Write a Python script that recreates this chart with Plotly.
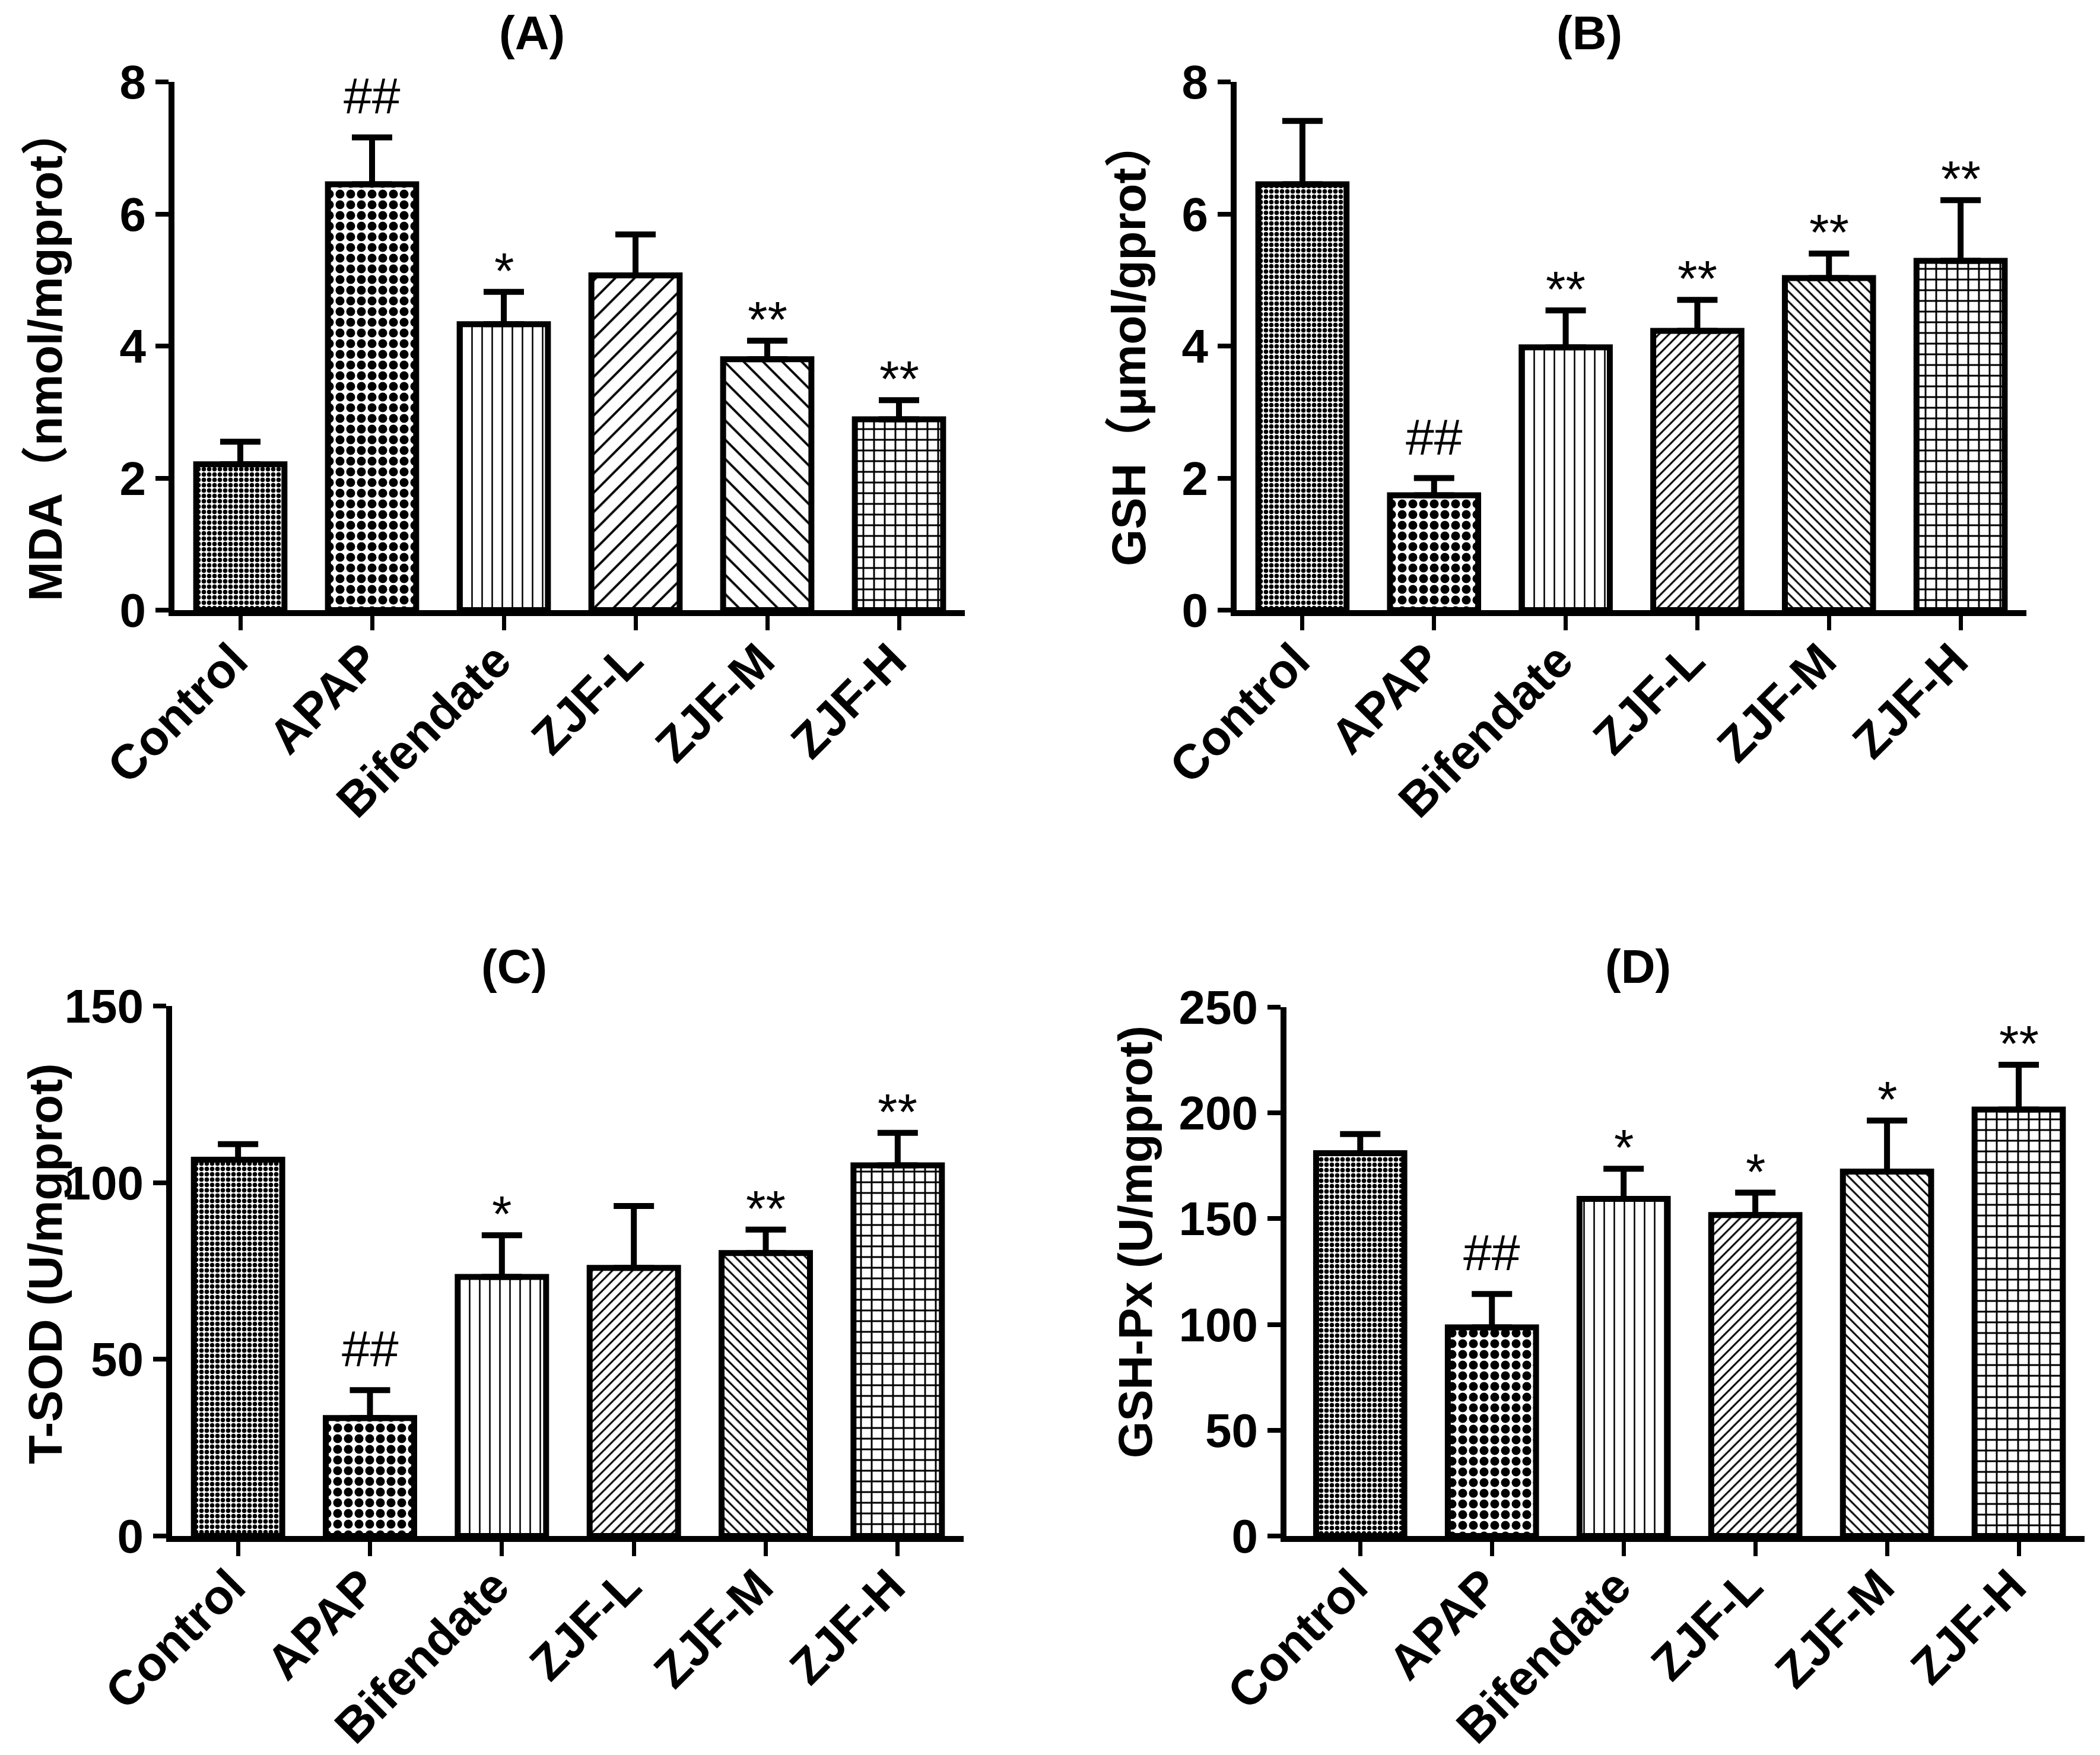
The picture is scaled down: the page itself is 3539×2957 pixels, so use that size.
import plotly.graph_objects as go

W, H = 3539, 2957

groups = ["Control", "APAP", "Bifendate", "ZJF-L", "ZJF-M", "ZJF-H"]

# (A) MDA
mda_mean = [2.21, 6.45, 4.33, 5.07, 3.80, 2.89]
mda_sd = [0.34, 0.71, 0.49, 0.62, 0.28, 0.29]
mda_marks = ["", "##", "*", "", "**", "**"]

# (B) GSH
gsh_mean = [6.45, 1.74, 3.98, 4.23, 5.03, 5.29]
gsh_sd = [0.96, 0.26, 0.56, 0.47, 0.37, 0.92]
gsh_marks = ["", "##", "**", "**", "**", "**"]

# (C) T-SOD
sod_mean = [106.5, 33.4, 73.3, 75.9, 80.1, 104.9]
sod_sd = [4.4, 7.9, 11.8, 17.5, 6.6, 9.2]
sod_marks = ["", "##", "*", "", "**", "**"]

# (D) GSH-Px
gpx_mean = [181.0, 98.6, 159.4, 151.7, 172.3, 201.6]
gpx_sd = [9.0, 15.8, 14.2, 10.6, 24.1, 21.2]
gpx_marks = ["", "##", "*", "*", "*", "**"]

BOLD = "Liberation Sans, Arial, Noto Sans CJK SC, sans-serif"
PLAIN = "Liberation Sans, Arial, sans-serif"

# pixel boxes of each plot area (left, right, top, bottom)
panels = [
    dict(mean=mda_mean, sd=mda_sd, marks=mda_marks, label="(A)",
         ytitle="MDA（nmol/mgprot）", yrange=[0, 8], dtick=2,
         box=(286, 1618, 130, 1020), xrange=[-0.5, 5.5],
         title_at=(888, 48), ytitle_at=(68, 590), hatch=23, hsol=0.17),
    dict(mean=gsh_mean, sd=gsh_sd, marks=gsh_marks, label="(B)",
         ytitle="GSH（μmol/gprot）", yrange=[0, 8], dtick=2,
         box=(2076, 3407, 130, 1020), xrange=[-0.5, 5.5],
         title_at=(2670, 48), ytitle_at=(1895, 570), hatch=12, hsol=0.25),
    dict(mean=sod_mean, sd=sod_sd, marks=sod_marks, label="(C)",
         ytitle="T-SOD (U/mgprot)", yrange=[0, 150], dtick=50,
         box=(282, 1616, 1687, 2580), xrange=[-0.5, 5.5],
         title_at=(858, 1620), ytitle_at=(68, 2122), hatch=12, hsol=0.25),
    dict(mean=gpx_mean, sd=gpx_sd, marks=gpx_marks, label="(D)",
         ytitle="GSH-Px (U/mgprot)", yrange=[0, 250], dtick=50,
         box=(2160, 3505, 1689, 2580), xrange=[-0.56, 5.5],
         title_at=(2752, 1620), ytitle_at=(1905, 2085), hatch=12, hsol=0.25),
]


def px(x):
    return x / W


def py(y):
    return 1 - y / H


fig = go.Figure()
annotations = []

for i, p in enumerate(panels, start=1):
    xa = "x" if i == 1 else "x%d" % i
    ya = "y" if i == 1 else "y%d" % i
    shapes = [".", ".", "|", "/", "\\", "+"]
    sizes = [9, 18, 17, p["hatch"], p["hatch"], 18]
    sols = [0.55, 0.55, 0.15, p["hsol"], p["hsol"], 0.3]
    fig.add_trace(go.Bar(
        x=groups, y=p["mean"], width=0.67, xaxis=xa, yaxis=ya,
        marker=dict(color="white", line=dict(color="black", width=10),
                    pattern=dict(shape=shapes, size=sizes, solidity=sols,
                                 fgcolor="black", bgcolor="white",
                                 fillmode="replace")),
        error_y=dict(type="data", symmetric=False, array=p["sd"],
                     arrayminus=[0] * len(groups), thickness=10, width=34,
                     color="black"),
        showlegend=False))

    l, r, t, b = p["box"]
    axis_common = dict(showline=True, linecolor="black", linewidth=10,
                       showgrid=False, zeroline=False, ticks="outside",
                       tickcolor="black", automargin=False)
    fig.update_layout(**{
        ("xaxis" if i == 1 else "xaxis%d" % i): dict(
            domain=[px(l), px(r)], anchor=ya, range=p["xrange"],
            tickangle=-45, ticklen=24, tickwidth=7,
            ticklabelstandoff=-30, ticklabelshift=-12,
            tickfont=dict(family=BOLD, size=82, color="black", weight="bold"),
            **axis_common),
        ("yaxis" if i == 1 else "yaxis%d" % i): dict(
            domain=[py(b), py(t)], anchor=xa, range=p["yrange"],
            dtick=p["dtick"], ticklen=22, tickwidth=8,
            tickfont=dict(family=BOLD, size=80, color="black", weight="bold"),
            **axis_common),
    })

    annotations.append(dict(
        text=p["label"], xref="paper", yref="paper",
        x=px(p["title_at"][0]), y=py(p["title_at"][1]),
        xanchor="center", yanchor="middle", showarrow=False,
        font=dict(family=BOLD, size=80, color="black", weight="bold")))
    annotations.append(dict(
        text=p["ytitle"], xref="paper", yref="paper", textangle=-90,
        x=px(p["ytitle_at"][0]), y=py(p["ytitle_at"][1]),
        xanchor="center", yanchor="middle", showarrow=False,
        font=dict(family=BOLD, size=80, color="black", weight="bold")))

    for g, m, s, mk in zip(groups, p["mean"], p["sd"], p["marks"]):
        if not mk:
            continue
        annotations.append(dict(
            text=mk, xref=xa, yref=ya, x=g, y=m + s,
            xanchor="center", yanchor="bottom", showarrow=False,
            yshift=20 if "#" in mk else -14,
            font=dict(family=PLAIN, size=86, color="black")))

fig.update_layout(
    width=W, height=H,
    margin=dict(l=0, r=0, t=0, b=0),
    paper_bgcolor="white", plot_bgcolor="white",
    annotations=annotations,
)

fig.write_html("out.html")
